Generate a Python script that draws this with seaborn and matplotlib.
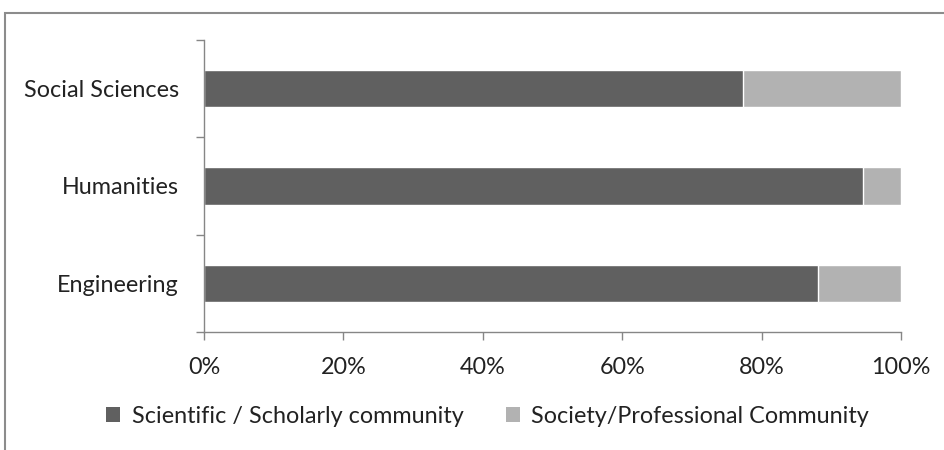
import matplotlib
matplotlib.use("Agg")
import matplotlib.pyplot as plt
from matplotlib.patches import Rectangle, Patch
from matplotlib.ticker import FixedLocator, PercentFormatter
import seaborn as sns
import pandas as pd

# Share of each discipline's audience (percent)
categories = ["Social Sciences", "Humanities", "Engineering"]
scholarly = [77.4, 94.5, 88.1]
professional = [22.6, 5.5, 11.9]
series_names = ["Scientific / Scholarly community", "Society/Professional Community"]

dark = "#606060"
light = "#b2b2b2"
axis_grey = "#868686"

sns.set_theme(style="white")
plt.rcParams["font.family"] = ["Lato", "DejaVu Sans"]

df = pd.DataFrame({
    "category": categories,
    "scholarly": scholarly,
    "total": [s + p for s, p in zip(scholarly, professional)],
})

fig = plt.figure(figsize=(9.45, 4.5), dpi=100)
ax = fig.add_axes([204 / 945, 1 - 332 / 450, 697 / 945, 292 / 450])

# Stacked bars: full length in light grey, scholarly share in dark grey on top
sns.barplot(data=df, x="total", y="category", order=categories, color=light,
            saturation=1, width=0.385, orient="h", ax=ax)
sns.barplot(data=df, x="scholarly", y="category", order=categories, color=dark,
            saturation=1, width=0.385, orient="h", ax=ax)

ax.set_xlim(0, 100)
ax.set_ylim(2.5, -0.5)
ax.set_xlabel("")
ax.set_ylabel("")

for side in ("top", "right"):
    ax.spines[side].set_visible(False)
for side in ("left", "bottom"):
    ax.spines[side].set_color(axis_grey)
    ax.spines[side].set_linewidth(1.0)

fs = 16.8
ax.set_xticks(range(0, 101, 20))
ax.xaxis.set_major_formatter(PercentFormatter(100, decimals=0))
ax.tick_params(axis="x", direction="out", length=6, width=1, color=axis_grey,
               labelsize=fs, labelcolor="#222222", pad=12, bottom=True)

ax.yaxis.set_minor_locator(FixedLocator([-0.5, 0.5, 1.5, 2.5]))
ax.tick_params(axis="y", which="major", length=0, labelsize=fs,
               labelcolor="#222222", pad=18)
ax.tick_params(axis="y", which="minor", direction="out", length=6, width=1,
               color=axis_grey, left=True)

handles = [Patch(facecolor=dark, edgecolor="none"),
           Patch(facecolor=light, edgecolor="none")]
fig.legend(handles, series_names, loc="center", bbox_to_anchor=(0.516, 0.075),
           ncol=2, frameon=False, fontsize=fs, handlelength=0.6, handleheight=0.6,
           handletextpad=0.5, columnspacing=1.8, labelcolor="#222222")

# Outer chart border
fig.patches.append(Rectangle((5.5 / 945, -0.1), 1.2, 1 - 12.5 / 450 + 0.1,
                             transform=fig.transFigure, fill=False,
                             edgecolor="#8c8c8c", linewidth=1.5))

fig.savefig("out.png", dpi=100)
